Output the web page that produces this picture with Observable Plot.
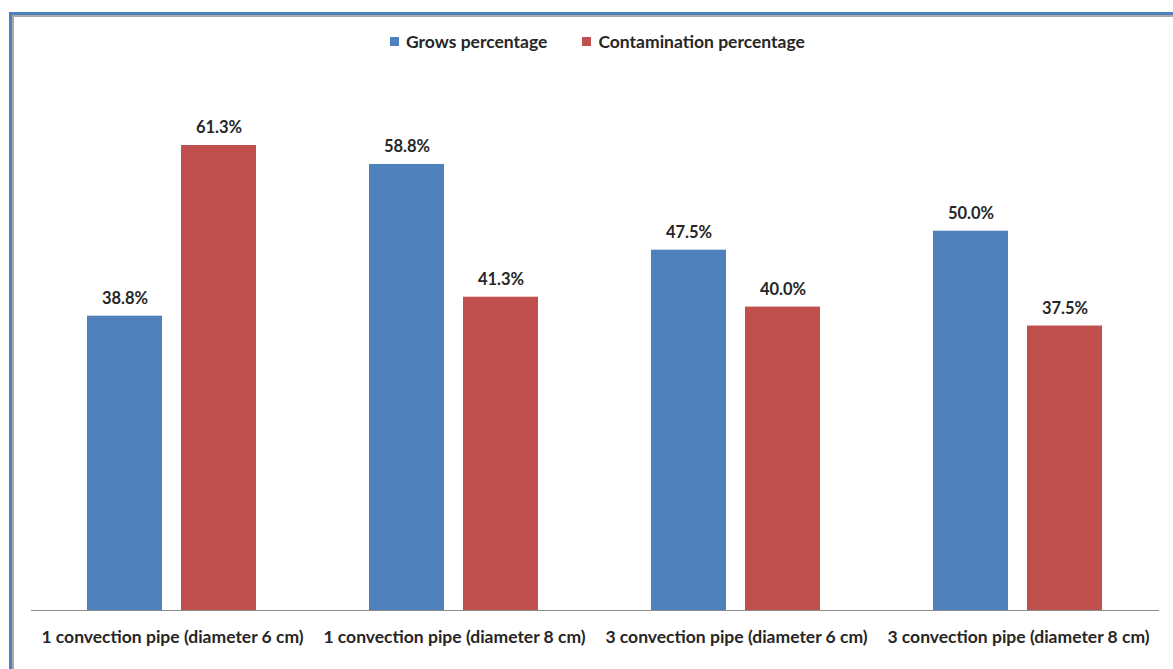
<!DOCTYPE html>
<html>
<head>
<meta charset="utf-8">
<script src="https://cdn.jsdelivr.net/npm/d3@7"></script>
<script src="https://cdn.jsdelivr.net/npm/@observablehq/plot@0.6"></script>
<style>
  html, body { margin: 0; padding: 0; background: #fff; overflow: hidden; }
  #wrap { position: relative; width: 1173px; height: 669px; overflow: hidden; font-family: Lato, "Noto Sans", sans-serif; }
  #frame {
    position: absolute; left: 9px; top: 12px; width: 1200px; height: 700px;
    border: 3px solid #4f81bd; box-sizing: border-box;
  }
  #frame::after {
    content: ""; position: absolute; left: 0; top: 0; right: 0; bottom: 0;
    border-top: 2px solid #aaa; border-left: 2px solid #aaa;
  }
  #legend {
    position: absolute; top: 31px; left: 390px;
    display: flex; gap: 35px;
    font-weight: bold; font-size: 17.5px; color: #262626;
  }
  #legend span.item { display: flex; align-items: center; }
  #legend span.sw { display: inline-block; width: 9px; height: 9px; margin-right: 7px; }
  #chart { position: absolute; left: 0; top: 0; }
</style>
</head>
<body>
<div id="wrap">
  <div id="frame"></div>
  <div id="chart"></div>
  <div id="legend"></div>
</div>
<script>
const categories = [
  "1 convection pipe (diameter 6 cm)",
  "1 convection pipe (diameter 8 cm)",
  "3 convection pipe (diameter 6 cm)",
  "3 convection pipe (diameter 8 cm)"
];
const seriesNames = ["Grows percentage", "Contamination percentage"];
const seriesColors = ["#4f81bd", "#c0504d"];
const grows = [38.8, 58.8, 47.5, 50.0];
const contamination = [61.3, 41.3, 40.0, 37.5];

const rows = [];
categories.forEach((c, i) => {
  rows.push({category: c, series: seriesNames[0], value: grows[i]});
  rows.push({category: c, series: seriesNames[1], value: contamination[i]});
});

const chart = Plot.plot({
  width: 1173,
  height: 669,
  marginLeft: 31,
  marginRight: 14,
  marginTop: 79,
  marginBottom: 59,
  style: {fontFamily: "Lato, 'Noto Sans', sans-serif", background: "transparent", overflow: "visible"},
  fx: {domain: categories, padding: 0, label: null, axis: null},
  x: {domain: seriesNames, paddingInner: 0.202, paddingOuter: 0.601, axis: null},
  y: {domain: [0, 70], axis: null},
  color: {domain: seriesNames, range: seriesColors},
  marks: [
    Plot.barY(rows, {fx: "category", x: "series", y: "value", fill: "series"}),
    Plot.text(rows, {
      fx: "category", x: "series", y: "value",
      text: d => `${d.value.toFixed(1)}%`,
      lineAnchor: "bottom", dy: -12,
      fontSize: 16.5, fontWeight: "bold", fill: "#262626"
    }),
    Plot.axisFx({
      anchor: "bottom", tickSize: 0, tickPadding: 20, label: null,
      fontSize: 17.5, fontWeight: "bold", fill: "#262626"
    }),
    Plot.ruleY([0], {stroke: "#8c8c8c", strokeWidth: 1})
  ]
});
document.getElementById("chart").appendChild(chart);

const legend = document.getElementById("legend");
seriesNames.forEach((name, i) => {
  const item = document.createElement("span");
  item.className = "item";
  const sw = document.createElement("span");
  sw.className = "sw";
  sw.style.background = seriesColors[i];
  item.appendChild(sw);
  item.appendChild(document.createTextNode(name));
  legend.appendChild(item);
});
</script>
</body>
</html>
